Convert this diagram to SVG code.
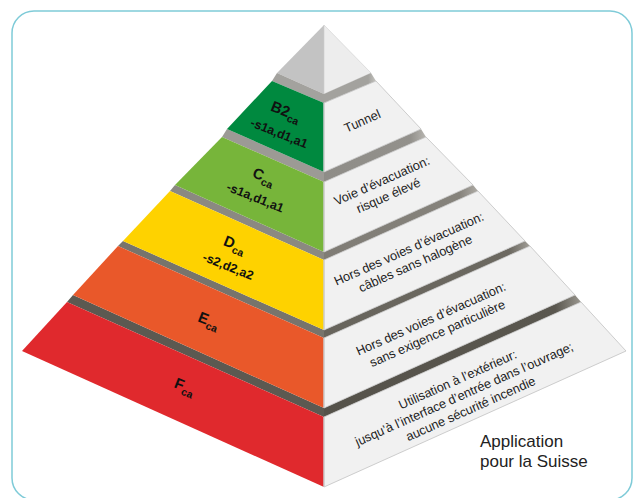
<svg xmlns="http://www.w3.org/2000/svg" width="633" height="498" viewBox="0 0 633 498">
<defs>
<style>
.wf{fill:#f1f1f1;stroke:#c2c2c2;stroke-width:0.8;stroke-linejoin:round}
.mid{stroke:#cfcfcf;stroke-width:1.2}
.lb{font-family:"Liberation Sans",Arial,sans-serif;font-weight:bold;fill:#111;text-anchor:middle}
.big{font-size:15px}
.sub{font-size:10.5px}
.sm{font-size:12.5px}
.rt{font-family:"Liberation Sans",Arial,sans-serif;font-size:12.7px;fill:#222;text-anchor:middle}
.app{font-family:"Liberation Sans",Arial,sans-serif;font-size:17px;fill:#222}
</style>
<linearGradient id="g1" x1="0" y1="0" x2="1" y2="0"><stop offset="0" stop-color="#a3a29e"/><stop offset="0.85" stop-color="#a3a29e"/><stop offset="1" stop-color="#c4c3bf"/></linearGradient>
<linearGradient id="g2" x1="0" y1="0" x2="1" y2="0"><stop offset="0" stop-color="#8e8c87"/><stop offset="0.85" stop-color="#93918c"/><stop offset="1" stop-color="#b8b6b1"/></linearGradient>
<linearGradient id="g3" x1="0" y1="0" x2="1" y2="0"><stop offset="0" stop-color="#7f7c75"/><stop offset="0.88" stop-color="#86837c"/><stop offset="1" stop-color="#aeaba5"/></linearGradient>
<linearGradient id="g4" x1="0" y1="0" x2="1" y2="0"><stop offset="0" stop-color="#67645c"/><stop offset="0.9" stop-color="#6c6961"/><stop offset="1" stop-color="#a19e97"/></linearGradient>
<linearGradient id="g5" x1="0" y1="0" x2="1" y2="0"><stop offset="0" stop-color="#55524a"/><stop offset="0.9" stop-color="#5a574f"/><stop offset="1" stop-color="#9a978f"/></linearGradient>
</defs>

<rect x="12" y="11" width="620" height="489" rx="22" fill="#fff" stroke="#7fcbd8" stroke-width="1.5"/>

<g id="cap">
<polygon points="324,25 277,73 324,94" fill="#c3c3c3"/>
<polygon points="324,25 371,73 324,94" fill="#ededed" stroke="#cfcfcf" stroke-width="0.6"/>
</g>

<g id="separators">
<polygon points="277,73 324,94 324,103 272,81" fill="#a3a29e"/>
<polygon points="371,73 324,94 324,103 376,81" fill="url(#g1)"/>
<polygon points="227,129 324,172 324,182 222,137" fill="#9c9a95"/>
<polygon points="421,129 324,172 324,182 426,137" fill="url(#g2)"/>
<polygon points="175,185 324,252 324,260 170,191" fill="#8b8981"/>
<polygon points="473,185 324,252 324,260 478,191" fill="url(#g3)"/>
<polygon points="123,241 324,330 324,338 118,246" fill="#77746c"/>
<polygon points="525,241 324,330 324,338 530,246" fill="url(#g4)"/>
<polygon points="73,295 324,408 324,417 67,302" fill="#5c5951"/>
<polygon points="575,295 324,408 324,417 581,302" fill="url(#g5)"/>
</g>

<g id="layer-b2">
<polygon points="272,81 324,103 324,172 227,129" fill="#00893f"/>
<polygon class="wf" points="376,81 324,103 324,172 421,129"/>
<line class="mid" x1="324" y1="103" x2="324" y2="172"/>
<g transform="translate(284,116) rotate(22)">
<text class="lb big" x="0" y="0">B2<tspan class="sub" dy="4">ca</tspan></text>
<text class="lb sm" x="2" y="22">-s1a,d1,a1</text>
</g>
<text class="rt" transform="translate(364,125) rotate(-24)">Tunnel</text>
</g>

<g id="layer-c">
<polygon points="222,137 324,182 324,252 175,185" fill="#77b53a"/>
<polygon class="wf" points="426,137 324,182 324,252 473,185"/>
<line class="mid" x1="324" y1="182" x2="324" y2="252"/>
<g transform="translate(262,181) rotate(22)">
<text class="lb big" x="0" y="0">C<tspan class="sub" dy="4">ca</tspan></text>
<text class="lb sm" x="0" y="22">-s1a,d1,a1</text>
</g>
<g transform="translate(385,188) rotate(-24)">
<text class="rt" x="0" y="-3.5">Voie d’évacuation:</text>
<text class="rt" x="0" y="12.5">risque élevé</text>
</g>
</g>

<g id="layer-d">
<polygon points="170,191 324,260 324,330 123,241" fill="#fed200"/>
<polygon class="wf" points="478,191 324,260 324,330 525,241"/>
<line class="mid" x1="324" y1="260" x2="324" y2="330"/>
<g transform="translate(233,249) rotate(22)">
<text class="lb big" x="0" y="0">D<tspan class="sub" dy="4">ca</tspan></text>
<text class="lb sm" x="2" y="22">-s2,d2,a2</text>
</g>
<g transform="translate(412,256) rotate(-24)">
<text class="rt" x="0" y="-3.5">Hors des voies d’évacuation:</text>
<text class="rt" x="0" y="12.5">câbles sans halogène</text>
</g>
</g>

<g id="layer-e">
<polygon points="118,246 324,338 324,408 73,295" fill="#e9582a"/>
<polygon class="wf" points="530,246 324,338 324,408 575,295"/>
<line class="mid" x1="324" y1="338" x2="324" y2="408"/>
<g transform="translate(207,325) rotate(22)">
<text class="lb big" x="0" y="0">E<tspan class="sub" dy="4">ca</tspan></text>
</g>
<g transform="translate(434,326) rotate(-24)">
<text class="rt" x="0" y="-3.5">Hors des voies d’évacuation:</text>
<text class="rt" x="0" y="12.5">sans exigence particulière</text>
</g>
</g>

<g id="layer-f">
<polygon points="67,302 324,417 324,487 22,351" fill="#e0292d"/>
<polygon class="wf" points="581,302 324,417 324,487 626,351"/>
<line class="mid" x1="324" y1="417" x2="324" y2="487"/>
<g transform="translate(183,391) rotate(22)">
<text class="lb big" x="0" y="0">F<tspan class="sub" dy="4">ca</tspan></text>
</g>
<g transform="translate(464,394) rotate(-24)">
<text class="rt" x="0" y="-11.5">Utilisation à l’extérieur:</text>
<text class="rt" x="0" y="4.5">jusqu’à l’interface d’entrée dans l’ouvrage;</text>
<text class="rt" x="0" y="20.5">aucune sécurité incendie</text>
</g>
</g>

<g id="caption">
<text class="app" x="480" y="447">Application</text>
<text class="app" x="480" y="467">pour la Suisse</text>
</g>
</svg>
